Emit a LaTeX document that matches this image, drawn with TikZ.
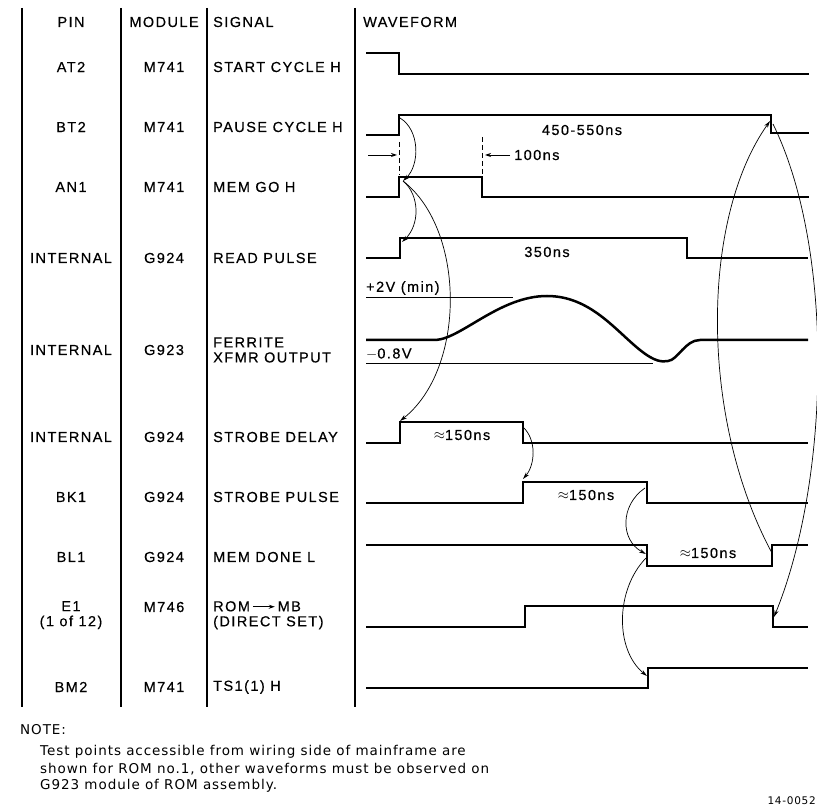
\documentclass[tikz,border=0pt]{standalone}
\usepackage{fontspec}
\setmainfont{Liberation Sans}[LetterSpace=10, FakeBold=0.4]
\newfontfamily\notefont{DejaVu Sans}[LetterSpace=7]
\usetikzlibrary{arrows.meta}

\begin{document}
\begin{tikzpicture}[x=1pt, y=-1pt]

    % Define styles
    \tikzstyle{rule} = [line width=1.3pt]
    \tikzstyle{wave} = [line width=2.5pt, line join=miter]
    \tikzstyle{level} = [line width=0.9pt]
    \tikzstyle{cause} = [line width=0.7pt, -{Stealth[length=7pt, width=4pt]}]
    \tikzstyle{tick} = [line width=0.9pt, -{Stealth[length=6pt, width=4pt]}]
    \tikzstyle{marker} = [line width=0.9pt, dash pattern=on 5pt off 3pt]
    \tikzstyle{lbl} = [font=\fontsize{14.5}{15}\selectfont, inner sep=0pt, align=center]
    \tikzstyle{sig} = [lbl, anchor=west, align=left]
    \tikzstyle{note} = [font=\notefont\fontsize{13.5}{17}\selectfont, inner sep=0pt, anchor=west]

    \useasboundingbox (0,0) rectangle (817,810);

    % Draw table rules
    \draw[rule] (22,8) -- (22,707);
    \draw[rule] (121,8) -- (121,707);
    \draw[rule] (207,8) -- (207,707);
    \draw[rule] (355,8) -- (355,707);

    % Header
    \node[lbl] (hpin) at (71,22) {PIN};
    \node[lbl] (hmod) at (164,22) {MODULE};
    \node[sig] (hsig) at (213,22) {SIGNAL};
    \node[sig] (hwave) at (363,22) {WAVEFORM};

    % Pins
    \node[lbl] (pin1) at (71,67) {AT2};
    \node[lbl] (pin2) at (71,127) {BT2};
    \node[lbl] (pin3) at (71,187) {AN1};
    \node[lbl] (pin4) at (71,258) {INTERNAL};
    \node[lbl] (pin5) at (71,350) {INTERNAL};
    \node[lbl] (pin6) at (71,437) {INTERNAL};
    \node[lbl] (pin7) at (71,497) {BK1};
    \node[lbl] (pin8) at (71,557) {BL1};
    \node[lbl, anchor=north] (pin9) at (71,601) {E1\\(1 of 12)};
    \node[lbl] (pin10) at (71,687) {BM2};

    % Modules
    \node[lbl] (mod1) at (164,67) {M741};
    \node[lbl] (mod2) at (164,127) {M741};
    \node[lbl] (mod3) at (164,187) {M741};
    \node[lbl] (mod4) at (164,258) {G924};
    \node[lbl] (mod5) at (164,350) {G923};
    \node[lbl] (mod6) at (164,437) {G924};
    \node[lbl] (mod7) at (164,497) {G924};
    \node[lbl] (mod8) at (164,557) {G924};
    \node[lbl] (mod9) at (164,607) {M746};
    \node[lbl] (mod10) at (164,687) {M741};

    % Signals
    \node[sig] (sig1) at (213,67) {START CYCLE H};
    \node[sig] (sig2) at (213,127) {PAUSE CYCLE H};
    \node[sig] (sig3) at (213,187) {MEM GO H};
    \node[sig] (sig4) at (213,258) {READ PULSE};
    \node[sig] (sig5) at (213,350) {FERRITE\\XFMR OUTPUT};
    \node[sig] (sig6) at (213,437) {STROBE DELAY};
    \node[sig] (sig7) at (213,497) {STROBE PULSE};
    \node[sig] (sig8) at (213,557) {MEM DONE L};
    \node[sig, anchor=north west] (sig9) at (213,601)
        {ROM\,\tikz[baseline=-0.6ex]\draw[line width=0.9pt, -{Stealth[length=6pt, width=4pt]}] (0,0) -- (22pt,0);\,MB\\(DIRECT SET)};
    \node[sig] (sig10) at (213,687) {TS1(1) H};

    % Draw waveforms
    \draw[wave] (366,53) -- (399,53) -- (399,74) -- (809,74);
    \draw[wave] (366,135) -- (399,135) -- (399,115) -- (771,115) -- (771,133) -- (809,133);
    \draw[wave] (366,197) -- (399,197) -- (399,177) -- (482,177) -- (482,197) -- (809,197);
    \draw[wave] (366,258) -- (400,258) -- (400,238) -- (687,238) -- (687,258) -- (808,258);
    \draw[wave] (366,340) -- (436,340) .. controls (462,338) and (500,296) .. (547,296)
        .. controls (590,296) and (615,330) .. (640,350)
        .. controls (655,362) and (662,362) .. (668,361)
        .. controls (678,360) and (685,340) .. (700,340) -- (808,340);
    \draw[wave] (366,443) -- (400,443) -- (400,422) -- (523,422) -- (523,443) -- (808,443);
    \draw[wave] (366,503) -- (523,503) -- (523,482) -- (647,482) -- (647,503) -- (808,503);
    \draw[wave] (366,545) -- (647,545) -- (647,566) -- (772,566) -- (772,545) -- (808,545);
    \draw[wave] (366,627) -- (525,627) -- (525,606) -- (773,606) -- (773,627) -- (808,627);
    \draw[wave] (366,688) -- (648,688) -- (648,668) -- (808,668);

    % Ferrite levels
    \draw[level] (366,297) -- (513,297);
    \draw[level] (366,363) -- (653,363);
    \node[sig] (vmax) at (366,288) {+2V (min)};
    \node[sig] (vmin) at (366,354) {$-$0.8V};

    % Timing labels
    \node[lbl] (t1) at (582,130) {450-550ns};
    \node[lbl] (t2) at (547,252) {350ns};
    \node[lbl] (t3) at (462,435) {$\approx$150ns};
    \node[lbl] (t4) at (586,495) {$\approx$150ns};
    \node[lbl] (t5) at (708,553) {$\approx$150ns};

    % 100ns markers
    \draw[marker] (399,142) -- (399,175);
    \draw[marker] (482,137) -- (482,175);
    \coordinate (lfree) at (368,155);
    \coordinate (lhit) at (397,155);
    \coordinate (rfree) at (510,155);
    \coordinate (rhit) at (485,155);
    \draw[tick] (lfree) -- (lhit);
    \draw[tick] (rfree) -- (rhit);
    \node[sig] (t0) at (514,155) {100ns};

    % Define edge points
    \coordinate (bt2rise) at (400,118);
    \coordinate (an1rise) at (403,181);
    \coordinate (readrise) at (402,242);
    \coordinate (sdrise) at (400,421);
    \coordinate (sdfall) at (523,427);
    \coordinate (sprise) at (523,479);
    \coordinate (spfall) at (645,488);
    \coordinate (mdfall) at (646,554);
    \coordinate (mdlow) at (646,558);
    \coordinate (ts1rise) at (647,676);
    \coordinate (mdrise) at (772,553);
    \coordinate (bt2fall) at (770,121);
    \coordinate (bt2low) at (773,124);
    \coordinate (romfall) at (774,617);

    % Draw cause arrows
    \draw[cause] (bt2rise) .. controls (420,130) and (420,165) .. (an1rise);
    \draw[cause] (an1rise) .. controls (420,195) and (420,225) .. (readrise);
    \draw[cause] (an1rise) .. controls (466,230) and (466,369) .. (sdrise);
    \draw[cause] (sdfall) .. controls (537,440) and (535,465) .. (sprise);
    \draw[cause] (spfall) .. controls (620,505) and (620,540) .. (mdfall);
    \draw[cause] (mdlow) .. controls (615,590) and (615,650) .. (ts1rise);
    \draw[cause] (mdrise) .. controls (700,420) and (700,220) .. (bt2fall);
    \draw[cause] (bt2low) .. controls (835,250) and (830,480) .. (romfall);

    % Note
    \node[note] (nhead) at (20,730) {NOTE:};
    \node[note] (n1) at (40,752) {Test points accessible from wiring side of mainframe are};
    \node[note] (n2) at (40,769) {shown for ROM no.1, other waveforms must be observed on};
    \node[note] (n3) at (40,786) {G923 module of ROM assembly.};
    \node[note, anchor=east, font=\notefont\fontsize{10.5}{13}\selectfont] (fig) at (816,801) {14-0052};

\end{tikzpicture}
\end{document}
